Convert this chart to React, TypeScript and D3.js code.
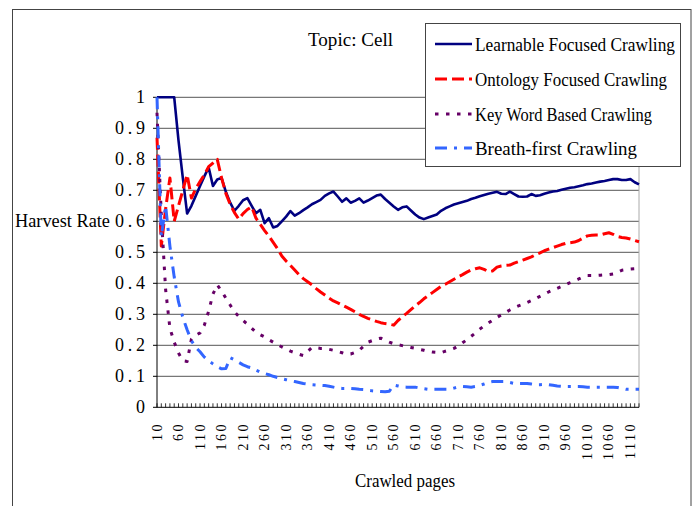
import React from 'react';
import * as d3 from 'd3';

const categories: number[] = d3.range(10, 1131, 10);

const learnable: number[] = [
  1, 1, 1, 1, 1,
  0.86, 0.74, 0.625, 0.65, 0.682,
  0.714, 0.745, 0.774, 0.714, 0.735,
  0.74, 0.695, 0.66, 0.634, 0.65,
  0.668, 0.675, 0.65, 0.626, 0.637,
  0.594, 0.61, 0.58, 0.585, 0.6,
  0.615, 0.633, 0.618, 0.626, 0.636,
  0.645, 0.655, 0.662, 0.669, 0.682,
  0.69, 0.696, 0.68, 0.663, 0.674,
  0.66, 0.666, 0.674, 0.66, 0.667,
  0.675, 0.683, 0.686, 0.672, 0.66,
  0.648, 0.637, 0.645, 0.648, 0.635,
  0.622, 0.612, 0.607, 0.612, 0.617,
  0.622, 0.634, 0.642, 0.648, 0.654,
  0.658, 0.662, 0.666, 0.672, 0.676,
  0.681, 0.685, 0.689, 0.692, 0.695,
  0.689, 0.688, 0.696, 0.688, 0.68,
  0.679, 0.68, 0.688, 0.682, 0.684,
  0.689, 0.693, 0.696, 0.698, 0.702,
  0.705, 0.708, 0.71, 0.713, 0.716,
  0.72, 0.722, 0.725, 0.728, 0.73,
  0.733, 0.736, 0.736, 0.733, 0.733,
  0.736, 0.726, 0.719,
];

const ontology: number[] = [
  0.87, 0.52, 0.64, 0.74, 0.6,
  0.65, 0.7, 0.75, 0.675, 0.705,
  0.728, 0.75, 0.776, 0.788, 0.8,
  0.74, 0.69, 0.655, 0.628, 0.607,
  0.625, 0.638, 0.647, 0.61, 0.59,
  0.57, 0.552, 0.532, 0.512, 0.488,
  0.472, 0.458, 0.443, 0.428, 0.415,
  0.405, 0.395, 0.383, 0.372, 0.362,
  0.352, 0.343, 0.337, 0.33, 0.323,
  0.316, 0.308, 0.3, 0.293, 0.287,
  0.282, 0.277, 0.273, 0.27, 0.268,
  0.265, 0.28, 0.292, 0.303, 0.315,
  0.327, 0.338, 0.35, 0.36, 0.37,
  0.38, 0.39, 0.397, 0.405, 0.413,
  0.421, 0.428, 0.436, 0.443, 0.447,
  0.45, 0.445, 0.438, 0.44, 0.452,
  0.456, 0.458, 0.459, 0.465, 0.47,
  0.475, 0.48, 0.485, 0.492, 0.498,
  0.505, 0.51, 0.515, 0.52, 0.525,
  0.529, 0.531, 0.533, 0.538, 0.546,
  0.553, 0.555, 0.556, 0.556, 0.56,
  0.563, 0.558, 0.551, 0.548, 0.546,
  0.543, 0.538, 0.534,
];

const keyword: number[] = [
  0.95, 0.62, 0.38, 0.255, 0.21,
  0.175, 0.15, 0.148, 0.22, 0.232,
  0.24, 0.265, 0.31, 0.365, 0.395,
  0.375, 0.352, 0.33, 0.308, 0.293,
  0.28, 0.268, 0.255, 0.242, 0.234,
  0.227, 0.218, 0.21, 0.202, 0.195,
  0.188, 0.181, 0.176, 0.171, 0.167,
  0.18, 0.193, 0.192, 0.19, 0.19,
  0.187, 0.184, 0.18, 0.176, 0.171,
  0.172, 0.177, 0.184, 0.197, 0.21,
  0.215, 0.22, 0.223, 0.216, 0.21,
  0.205, 0.202, 0.199, 0.196, 0.193,
  0.19, 0.187, 0.184, 0.18, 0.178,
  0.177, 0.176, 0.181, 0.185, 0.19,
  0.198, 0.208, 0.218, 0.229, 0.24,
  0.252, 0.263, 0.272, 0.281, 0.29,
  0.298, 0.306, 0.314, 0.321, 0.327,
  0.332, 0.338, 0.344, 0.351, 0.358,
  0.365, 0.372, 0.378, 0.384, 0.39,
  0.396, 0.402, 0.408, 0.414, 0.42,
  0.425, 0.425, 0.425, 0.426, 0.427,
  0.428, 0.43, 0.436, 0.442, 0.444,
  0.446, 0.447, 0.448,
];

const breadth: number[] = [
  1.0, 0.55, 0.65, 0.52, 0.42,
  0.34, 0.29, 0.25, 0.215, 0.193,
  0.179, 0.162, 0.15, 0.14, 0.131,
  0.124, 0.125, 0.16, 0.153, 0.145,
  0.137, 0.131, 0.127, 0.12, 0.114,
  0.109, 0.105, 0.1, 0.096, 0.092,
  0.089, 0.086, 0.083, 0.08, 0.077,
  0.075, 0.073, 0.072, 0.071, 0.07,
  0.068, 0.065, 0.062, 0.061, 0.061,
  0.061, 0.06, 0.058, 0.057, 0.055,
  0.053, 0.052, 0.051, 0.05, 0.052,
  0.072, 0.069, 0.066, 0.065, 0.065,
  0.065, 0.062, 0.06, 0.058, 0.058,
  0.058, 0.058, 0.058, 0.058, 0.062,
  0.066, 0.067, 0.066, 0.065, 0.067,
  0.071, 0.075, 0.08, 0.083, 0.083,
  0.083, 0.083, 0.08, 0.077, 0.077,
  0.077, 0.077, 0.075, 0.073, 0.073,
  0.074, 0.073, 0.071, 0.069, 0.068,
  0.067, 0.067, 0.067, 0.067, 0.066,
  0.065, 0.065, 0.065, 0.065, 0.065,
  0.065, 0.065, 0.064, 0.061, 0.058,
  0.058, 0.058, 0.058,
];

const yTicks: number[] = [0, 0.1, 0.2, 0.3, 0.4, 0.5, 0.6, 0.7, 0.8, 0.9, 1];
const yTickLabels: string[] = ['0', '0.1', '0.2', '0.3', '0.4', '0.5', '0.6', '0.7', '0.8', '0.9', '1'];
const seriesNames: string[] = [
  'Learnable Focused Crawling',
  'Ontology Focused Crawling',
  'Key Word Based Crawling',
  'Breath-first Crawling',
];
const titleText = 'Topic: Cell';
const xTitle = 'Crawled pages';
const yTitle = 'Harvest Rate';

const FONT = '"Liberation Serif", "DejaVu Serif", serif';

export default function App() {
  const W = 697;
  const H = 506;
  const left = 157;
  const right = 639;
  const top = 97.3;
  const bottom = 407.3;

  const x = d3.scalePoint<number>().domain(categories).range([left, right]);
  const y = d3.scaleLinear().domain([0, 1]).range([bottom, top]);

  const styles = [
    { color: '#000080', width: 2.6, dash: undefined as string | undefined },
    { color: '#FF0000', width: 3, dash: '12,5' },
    { color: '#660066', width: 3, dash: '3.5,7.5' },
    { color: '#3366FF', width: 3, dash: '12,7,3,7' },
  ];
  const seriesData = [learnable, ontology, keyword, breadth];

  const line = d3
    .line<number>()
    .x((_, i) => x(categories[i]) as number)
    .y((d) => y(d));

  const legendX = 425;
  const legendY = 23;
  const legendW = 255;
  const legendH = 143;
  const legendRows = [44, 79, 114, 148];
  const legendLens = [200, 192, 177, 162];

  return (
    <svg
      width={W}
      height={H}
      style={{ position: 'absolute', left: 0, top: 0, background: '#fff' }}
      fontFamily={FONT}
    >
      <rect x={0} y={0} width={W} height={H} fill="#fff" />
      <rect x={12.5} y={9.5} width={678.5} height={520} fill="none" stroke="#444" strokeWidth={1} />

      {yTicks.filter((t) => t > 0).map((t) => (
        <line key={'g' + t} x1={left} x2={right} y1={y(t)} y2={y(t)} stroke="#555" strokeWidth={1} />
      ))}
      <line x1={right} x2={right} y1={top} y2={bottom} stroke="#aaa" strokeWidth={1} />

      <line x1={left} x2={left} y1={top} y2={bottom} stroke="#000" strokeWidth={1} />
      <line x1={left} x2={right} y1={bottom} y2={bottom} stroke="#000" strokeWidth={1} />
      {yTicks.map((t) => (
        <line key={'yt' + t} x1={left - 4} x2={left} y1={y(t)} y2={y(t)} stroke="#000" strokeWidth={1} />
      ))}
      {categories.map((c) => (
        <line key={'xt' + c} x1={x(c)} x2={x(c)} y1={bottom - 4} y2={bottom} stroke="#000" strokeWidth={0.8} />
      ))}

      {yTicks.map((t, i) => (
        <text
          key={'yl' + t}
          x={145}
          y={y(t) + 6}
          textAnchor="end"
          fontSize={18}
          fill="#000"
          {...(yTickLabels[i].length > 1 ? { textLength: 30, lengthAdjust: 'spacing' } : {})}
        >
          {yTickLabels[i]}
        </text>
      ))}

      {categories.map((c, i) =>
        i % 5 === 0 ? (
          <text
            key={'xl' + c}
            transform={`translate(${x(c)},${422}) rotate(-90)`}
            textAnchor="end"
            dominantBaseline="central"
            fontSize={14}
            letterSpacing={2.5}
            fill="#000"
          >
            {String(c)}
          </text>
        ) : null
      )}

      {seriesData.map((s, k) => (
        <path
          key={'s' + k}
          d={line(s) || ''}
          fill="none"
          stroke={styles[k].color}
          strokeWidth={styles[k].width}
          strokeDasharray={styles[k].dash}
          strokeLinejoin="round"
        />
      ))}

      <text x={308} y={46} fontSize={19} textLength={85} lengthAdjust="spacingAndGlyphs" fill="#000">
        {titleText}
      </text>
      <text x={15} y={227} fontSize={18} textLength={95} lengthAdjust="spacingAndGlyphs" fill="#000">
        {yTitle}
      </text>
      <text x={355} y={487} fontSize={18} textLength={100} lengthAdjust="spacingAndGlyphs" fill="#000">
        {xTitle}
      </text>

      <rect x={legendX + 0.5} y={legendY + 0.5} width={legendW} height={legendH} fill="#fff" stroke="#444" strokeWidth={1} />
      {seriesNames.map((n, k) => (
        <g key={'lg' + k}>
          <line
            x1={435}
            x2={472}
            y1={legendRows[k]}
            y2={legendRows[k]}
            stroke={styles[k].color}
            strokeWidth={styles[k].width}
            strokeDasharray={styles[k].dash}
          />
          <text
            x={475}
            y={legendRows[k] + 6.5}
            fontSize={18.5}
            textLength={legendLens[k]}
            lengthAdjust="spacingAndGlyphs"
            fill="#000"
          >
            {n}
          </text>
        </g>
      ))}
    </svg>
  );
}
